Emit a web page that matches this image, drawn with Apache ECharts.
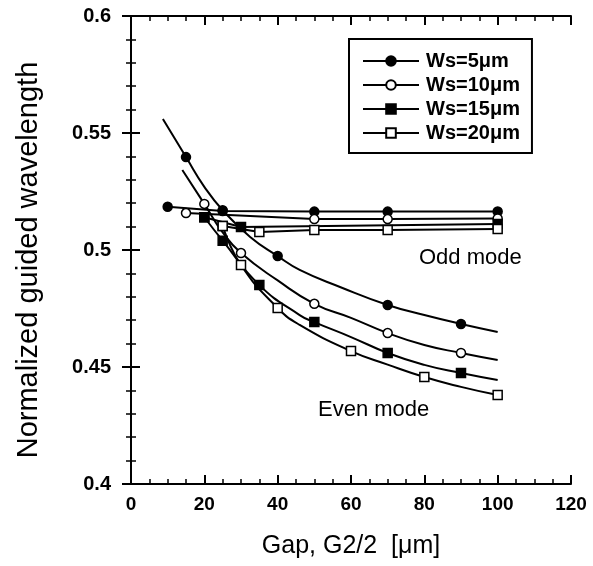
<!DOCTYPE html>
<html><head><meta charset="utf-8">
<script src="https://cdn.jsdelivr.net/npm/echarts@6/dist/echarts.min.js"></script>
<style>html,body{margin:0;padding:0;background:#fff}#c{width:593px;height:566px}</style>
</head><body><div id="c"></div>
<script>
// Series data [gap, wavelength, showMarker]
const ws5Odd  = [[10,0.5185,1],[25,0.5167,1],[50,0.5164,1],[70,0.5164,1],[100,0.5165,1]];
const ws10Odd = [[15,0.5158,1],[50,0.5132,1],[70,0.5132,1],[100,0.5135,1]];
const ws15Odd = [[20,0.5140,1],[30,0.5098,1],[100,0.5111,1]];
const ws20Odd = [[25,0.5103,1],[35,0.5077,1],[50,0.5085,1],[70,0.5086,1],[100,0.5090,1]];
const ws5Even  = [[8.7,0.556,0],[15,0.5397,1],[20,0.527,0],[25,0.517,1],[32.5,0.5056,0],[40,0.4974,1],[46,0.4915,0],[57,0.4842,0],[70,0.4765,1],[80,0.4722,0],[90,0.4684,1],[100,0.465,0]];
const ws10Even = [[14,0.5342,0],[20,0.5197,1],[25,0.5075,0],[30,0.4987,1],[40,0.487,0],[50,0.477,1],[60,0.471,0],[70,0.4645,1],[80,0.4594,0],[90,0.456,1],[100,0.453,0]];
const ws15Even = [[20,0.5140,1],[25,0.504,1],[35,0.485,1],[46,0.4722,0],[50,0.4692,1],[60,0.4628,0],[70,0.456,1],[80,0.4509,0],[90,0.4474,1],[100,0.4444,0]];
const ws20Even = [[25,0.5103,1],[30,0.4936,1],[40,0.4752,1],[46,0.468,0],[60,0.4568,1],[70,0.451,0],[80,0.4457,1],[90,0.4415,0],[100,0.438,1]];
const names = ['Ws=5\u03bcm','Ws=10\u03bcm','Ws=15\u03bcm','Ws=20\u03bcm'];
const xTicks = [0,20,40,60,80,100,120];
const yTicks = [0.4,0.45,0.5,0.55,0.6];

const styles = [
  {symbol:'circle', fill:'#000'},
  {symbol:'circle', fill:'#fff'},
  {symbol:'rect', fill:'#000'},
  {symbol:'rect', fill:'#fff'}
];
function mk(name, idx, data, smooth){
  const st = styles[idx];
  return {
    name, type:'line', smooth: smooth,
    symbol: st.symbol, symbolSize: 9, showSymbol:true,
    lineStyle:{color:'#000', width:2},
    itemStyle:{color:st.fill, borderColor:'#000', borderWidth:1.5},
    data: data.map(d => d[2] ? {value:[d[0],d[1]]} : {value:[d[0],d[1]], symbol:'none'}),
    z: 3
  };
}
const chart = echarts.init(document.getElementById('c'));
const font = '"Liberation Sans", Arial, sans-serif';
chart.setOption({
  animation:false,
  backgroundColor:'#fff',
  grid:{left:131, right:22, top:16, bottom:82},
  legend:{
    data: names.map(n=>({name:n})),
    orient:'vertical', left:349, top:39,
    padding:[12,12,10,13], itemGap:4, itemWidth:56, itemHeight:12,
    borderColor:'#000', borderWidth:2, backgroundColor:'#fff',
    textStyle:{fontFamily:font, fontSize:20, fontWeight:'bold', color:'#000', padding:[0,0,0,2]},
    selectedMode:false
  },
  xAxis:[{
    type:'value', min:0, max:120, interval:20,
    name:'Gap, G2/2  [\u03bcm]', nameLocation:'middle', nameGap:50,
    nameTextStyle:{fontFamily:font, fontSize:25, color:'#000'},
    axisLine:{show:true, lineStyle:{color:'#000', width:2}},
    axisTick:{show:true, inside:true, length:9, lineStyle:{color:'#000', width:2}},
    minorTick:{show:true, splitNumber:4, length:5, lineStyle:{color:'#000', width:1.5}},
    axisLabel:{margin:11, fontFamily:font, fontSize:19, fontWeight:'bold', color:'#000'},
    splitLine:{show:false}
  },{
    type:'value', position:'top', min:0, max:120, interval:20,
    axisLine:{show:true, lineStyle:{color:'#000', width:2}},
    axisTick:{show:true, inside:true, length:9, lineStyle:{color:'#000', width:2}},
    minorTick:{show:true, splitNumber:4, length:5, lineStyle:{color:'#000', width:1.5}},
    axisLabel:{show:false}, splitLine:{show:false}
  }],
  yAxis:[{
    type:'value', min:0.4, max:0.6, interval:0.05,
    axisLine:{show:true, lineStyle:{color:'#000', width:2}},
    axisTick:{show:true, inside:true, length:9, lineStyle:{color:'#000', width:2}},
    minorTick:{show:true, splitNumber:5, length:5, lineStyle:{color:'#000', width:1.5}},
    axisLabel:{margin:20, fontFamily:font, fontSize:20, fontWeight:'bold', color:'#000',
      formatter: v => String(+v.toFixed(2))},
    splitLine:{show:false}
  },{
    type:'value', position:'right', min:0.4, max:0.6, interval:0.05,
    axisLine:{show:true, lineStyle:{color:'#000', width:2}},
    axisTick:{show:true, inside:true, length:9, lineStyle:{color:'#000', width:2}},
    minorTick:{show:true, splitNumber:5, length:5, lineStyle:{color:'#000', width:1.5}},
    axisLabel:{show:false}, splitLine:{show:false}
  }],
  graphic:[
    {type:'text', x:29, y:260, rotation:Math.PI/2,
      style:{text:'Normalized guided wavelength', font:'29px "Liberation Sans", Arial', fill:'#000', align:'center', verticalAlign:'middle'}},
    {type:'text', left:419, top:247, style:{text:'Odd mode', font:'22px "Liberation Sans", Arial', fill:'#000'}},
    {type:'text', left:318, top:399, style:{text:'Even mode', font:'22px "Liberation Sans", Arial', fill:'#000'}}
  ],
  series:[
    mk(names[0],0,ws5Odd,false),
    mk(names[1],1,ws10Odd,false),
    mk(names[2],2,ws15Odd,false),
    mk(names[3],3,ws20Odd,false),
    mk(names[0],0,ws5Even,0.5),
    mk(names[1],1,ws10Even,0.5),
    mk(names[2],2,ws15Even,0.5),
    mk(names[3],3,ws20Even,0.5)
  ]
});
</script></body></html>
